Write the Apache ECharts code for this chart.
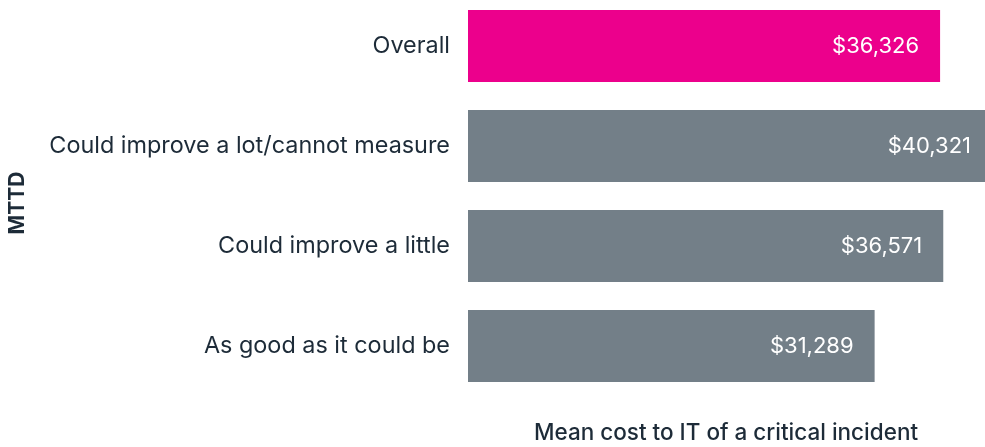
<!DOCTYPE html>
<html>
<head>
<meta charset="utf-8">
<script src="https://cdn.jsdelivr.net/npm/echarts@6/dist/echarts.min.js"></script>
<style>
html,body{margin:0;padding:0;background:#fff;}
#main{width:985px;height:447px;}
</style>
</head>
<body>
<div id="main"></div>
<script>
var categories = ['Overall', 'Could improve a lot/cannot measure', 'Could improve a little', 'As good as it could be'];
var values = [36326, 40321, 36571, 31289];
var barColors = ['#ec008c', '#737f88', '#737f88', '#737f88'];

var textColor = '#1d2b38';
var myChart = echarts.init(document.getElementById('main'));

myChart.setOption({
	animation: false,
	grid: {
		outerBoundsMode: 'none',
		left: 468,
		width: 524,
		top: -4,
		height: 400
	},
	xAxis: {
		type: 'value',
		min: 0,
		max: 40321,
		show: false
	},
	yAxis: {
		type: 'category',
		inverse: true,
		data: categories,
		axisLine: {show: false},
		axisTick: {show: false},
		axisLabel: {
			margin: 18,
			padding: [6, 0, 0, 0],
			fontFamily: 'Inter',
			fontSize: 23.4,
			color: textColor
		}
	},
	graphic: [
		{
			type: 'text',
			x: 18,
			y: 203,
			rotation: Math.PI / 2,
			style: {
				text: 'MTTD',
				fontFamily: 'Inter',
				fontSize: 21,
				fontWeight: 'bold',
				fill: textColor,
				align: 'center',
				verticalAlign: 'middle'
			}
		},
		{
			type: 'text',
			x: 726,
			y: 433,
			style: {
				text: 'Mean cost to IT of a critical incident',
				fontFamily: 'Inter',
				fontSize: 22.5,
				fontWeight: 500,
				fill: textColor,
				align: 'center',
				verticalAlign: 'middle'
			}
		}
	],
	series: [
		{
			type: 'bar',
			barWidth: 72,
			data: values.map(function (v, i) {
				return {value: v, itemStyle: {color: barColors[i]}};
			}),
			label: {
				show: true,
				position: 'insideRight',
				distance: 21,
				fontFamily: 'Inter',
				fontSize: 22,
				color: '#fff',
				formatter: function (p) {
					return '$' + p.value.toLocaleString('en-US');
				}
			}
		}
	]
});
</script>
</body>
</html>
